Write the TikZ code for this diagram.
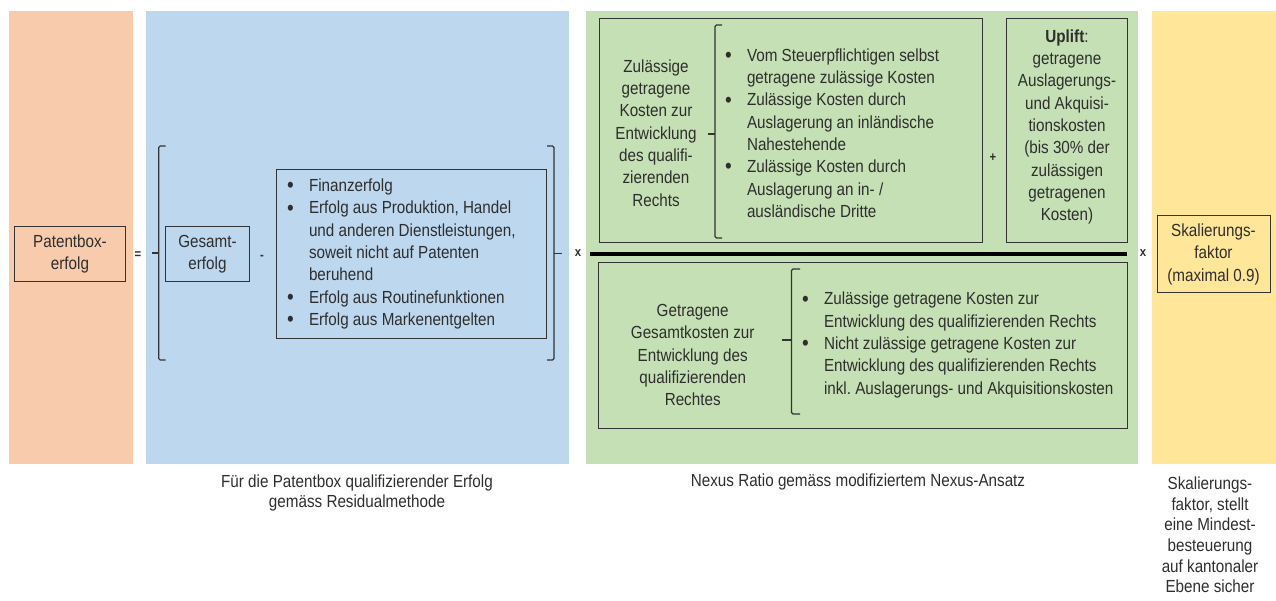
\documentclass[tikz,border=0pt]{standalone}
\usepackage{fontspec}
\setmainfont[FakeStretch=0.87]{Liberation Sans}
\definecolor{orng}{HTML}{F8CBAD}
\definecolor{blu}{HTML}{BDD7EE}
\definecolor{grn}{HTML}{C5E0B4}
\definecolor{ylw}{HTML}{FFE699}
\definecolor{edge}{HTML}{333333}
\definecolor{txt}{HTML}{2E2E2E}
\newcommand{\fs}{\fontsize{17.5}{22.3}\selectfont}
\newcommand{\fc}{\fontsize{17.5}{20.6}\selectfont}
\newcommand{\bl}{\makebox[22pt][l]{\raisebox{-1.2pt}{\fontsize{22}{22}\selectfont •}}}
\newcommand{\ct}{\hspace*{22pt}}
\frenchspacing
\begin{document}
\begin{tikzpicture}[x=1pt,y=-1pt,
  fbox/.style={draw=edge,line width=1pt,inner sep=0pt,align=center,font=\fs,text=txt},
  lbl/.style={inner sep=0pt,align=center,font=\fs,text=txt},
  captxt/.style={inner sep=0pt,align=center,font=\fc,text=txt},
  lst/.style={inner sep=0pt,align=left,font=\fs,text=txt,anchor=west},
  op/.style={inner sep=0pt,font=\fontsize{13}{15}\selectfont\bfseries,text=txt},
  brk/.style={draw=edge,line width=1.1pt,rounded corners=1.5pt}]
\useasboundingbox (0,0) rectangle (1276,600);
% panels
\fill[orng] (9,11) rectangle (132.7,464);
\fill[blu] (146,11) rectangle (569,464);
\fill[grn] (586,11) rectangle (1138,463.5);
\fill[ylw] (1152,11) rectangle (1276,464);
% left part
\node[fbox,minimum width=111.7pt,minimum height=55.7pt] (pb) at (70,254) {Patentbox-\\erfolg};
\node[op] (eq) at (138,255) {=};
\draw[brk] (165.7,146) -- (158.7,146) -- (158.7,360) -- (165.7,360);
\draw[brk] (158.7,253) -- (151.7,253);
\node[fbox,minimum width=83.6pt,minimum height=55.7pt] (ge) at (207.5,254) {Gesamt-\\erfolg};
\node[op] (mi) at (262,257) {-};
\node[fbox,minimum width=270pt,minimum height=169pt] (b1) at (411.7,253.8) {};
\node[lst] (b1t) at (286.8,254) {\bl Finanzerfolg\\\bl Erfolg aus Produktion, Handel\\\ct und anderen Dienstleistungen,\\\ct soweit nicht auf Patenten\\\ct beruhend\\\bl Erfolg aus Routinefunktionen\\\bl Erfolg aus Markenentgelten};
\draw[brk] (547,146) -- (554,146) -- (554,360) -- (547,360);
\draw[brk] (554,253.3) -- (561.7,253.3);
\node[op] (x1) at (578,253) {x};
% nexus top
\node[fbox,minimum width=383pt,minimum height=224pt] (t1) at (790.5,130) {};
\node[lbl] (t1l) at (656,133) {Zulässige\\getragene\\Kosten zur\\Entwicklung\\des qualifi-\\zierenden\\Rechts};
\draw[brk] (722,25) -- (715,25) -- (715,238) -- (722,238);
\draw[brk] (715,134) -- (708,134);
\node[lst] (t1b) at (724.8,133) {\bl Vom Steuerpflichtigen selbst\\\ct getragene zulässige Kosten\\\bl Zulässige Kosten durch\\\ct Auslagerung an inländische\\\ct Nahestehende\\\bl Zulässige Kosten durch\\\ct Auslagerung an in- /\\\ct ausländische Dritte};
\node[op] (pl) at (993,158) {+};
\node[fbox,minimum width=120.3pt,minimum height=224.7pt] (up) at (1066.9,130.35) {};
\node[lbl] (upt) at (1067,127) {\textbf{Uplift}:\\getragene\\Auslagerungs-\\und Akquisi-\\tionskosten\\(bis 30\% der\\zulässigen\\getragenen\\Kosten)};
% fraction line
\coordinate (f1) at (590,254);
\coordinate (f2) at (1127,254);
\draw[line width=4pt,black] (f1) -- (f2);
\node[op] (x2) at (1143,253) {x};
% nexus bottom
\node[fbox,minimum width=528.7pt,minimum height=165.3pt] (bb) at (862.65,345.35) {};
\node[lbl] (bbl) at (692.7,355) {Getragene\\Gesamtkosten zur\\Entwicklung des\\qualifizierenden\\Rechtes};
\draw[brk] (800,269) -- (791.5,269) -- (791.5,414) -- (800,414);
\draw[brk] (791.5,340) -- (781.5,340);
\node[lst] (bbt) at (801.8,345) {\bl Zulässige getragene Kosten zur\\\ct Entwicklung des qualifizierenden Rechts\\\bl Nicht zulässige getragene Kosten zur\\\ct Entwicklung des qualifizierenden Rechts\\\ct inkl. Auslagerungs- und Akquisitionskosten};
% scaling
\node[fbox,minimum width=113pt,minimum height=77.3pt] (sk) at (1213.5,254.3) {Skalierungs-\\faktor\\(maximal 0.9)};
% captions
\node[captxt] (c1) at (357,493) {Für die Patentbox qualifizierender Erfolg\\gemäss Residualmethode};
\node[captxt] (c2) at (858,481.7) {Nexus Ratio gemäss modifiziertem Nexus-Ansatz};
\node[captxt] (c3) at (1210,535) {Skalierungs-\\faktor, stellt\\eine Mindest-\\besteuerung\\auf kantonaler\\Ebene sicher};
\end{tikzpicture}
\end{document}
